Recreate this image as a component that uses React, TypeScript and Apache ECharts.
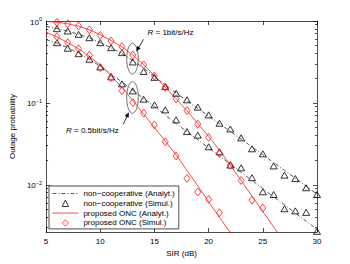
import React, { useEffect, useRef } from 'react';
import * as echarts from 'echarts';

const FONT = '"Liberation Sans", Arial, Helvetica, sans-serif';

// SIR (dB) sample positions
const sirAnalyt = [5, 6, 7, 8, 9, 10, 11, 12, 13, 14, 15, 16, 17, 18, 19, 20, 21, 22, 23, 24, 25, 26, 27, 28, 29, 30];
const sirSim = [6, 7, 8, 9, 10, 11, 12, 13, 14, 15, 16, 17, 18, 19, 20, 21, 22, 23, 24, 25, 26, 27, 28, 29, 30];

// Analytical curves (outage probability)
const nonCoopR1Analyt = [0.86, 0.81, 0.75, 0.69, 0.62, 0.545, 0.47, 0.4, 0.33, 0.265, 0.21, 0.166, 0.132, 0.106, 0.0855, 0.069, 0.0555, 0.045, 0.0362, 0.029, 0.0233, 0.0187, 0.015, 0.012, 0.0096, 0.0077];
const nonCoopR05Analyt = [0.59, 0.54, 0.47, 0.405, 0.34, 0.28, 0.225, 0.18, 0.143, 0.113, 0.09, 0.071, 0.056, 0.0445, 0.0355, 0.0282, 0.0225, 0.0179, 0.0142, 0.0113, 0.009, 0.0071, 0.0057, 0.0045, 0.0036, 0.00285];
const oncR1Analyt = [0.99, 0.965, 0.925, 0.865, 0.78, 0.68, 0.578, 0.483, 0.385, 0.293, 0.215, 0.155, 0.112, 0.08, 0.056, 0.039, 0.0265, 0.0174, 0.01125, 0.00726, 0.00471, 0.00305, 0.00197];
const oncR05Analyt = [0.73, 0.64, 0.545, 0.455, 0.37, 0.29, 0.215, 0.155, 0.107, 0.073, 0.05, 0.034, 0.0232, 0.015, 0.0097, 0.0062, 0.004, 0.0026];

// Simulated points
const nonCoopR1Sim = [0.806, 0.755, 0.688, 0.626, 0.544, 0.472, 0.411, 0.316, 0.242, 0.205, 0.158, 0.131, 0.109, 0.0887, 0.0714, 0.0565, 0.048, 0.0374, 0.0275, 0.0239, 0.017, 0.0131, 0.0119, 0.0092, 0.0076];
const nonCoopR05Sim = [0.5435, 0.465, 0.399, 0.341, 0.275, 0.2075, 0.1706, 0.14, 0.111, 0.0946, 0.0822, 0.0621, 0.0447, 0.0404, 0.0291, 0.0253, 0.0174, 0.0161, 0.0122, 0.0082, 0.0076, 0.0051, 0.0048, 0.0046, 0.0027];
const oncR1Sim = [0.96, 0.925, 0.87, 0.78, 0.665, 0.57, 0.486, 0.385, 0.291, 0.213, 0.155, 0.112, 0.0805, 0.055, 0.0378, 0.0241, 0.0172, 0.01128, 0.0065, 0.0052];
const oncR05Sim = [0.643, 0.544, 0.459, 0.382, 0.269, 0.204, 0.141, 0.1008, 0.0749, 0.0539, 0.0334, 0.0224, 0.01194, 0.00815, 0.00662, 0.00456];

const xTickValues = [5, 10, 15, 20, 25, 30];
const yMajorValues = [0.01, 0.1, 1];
const yMinorValues = [0.003, 0.004, 0.005, 0.006, 0.007, 0.008, 0.009, 0.02, 0.03, 0.04, 0.05, 0.06, 0.07, 0.08, 0.09, 0.2, 0.3, 0.4, 0.5, 0.6, 0.7, 0.8, 0.9];
const Y_MIN = 0.00265;
const Y_MAX = 1;

const NAME_NC_A = 'non\u2212cooperative (Analyt.)';
const NAME_NC_S = 'non\u2212cooperative (Simul.)';
const NAME_ONC_A = 'proposed ONC (Analyt.)';
const NAME_ONC_S = 'proposed ONC (Simul.)';
const legendNames = [NAME_NC_A, NAME_NC_S, NAME_ONC_A, NAME_ONC_S];

const RED = '#ff1a1a';
const GRAY = '#333333';

function toPairs(xs: number[], ys: number[]) {
  return ys.map((v, i) => [xs[i], Math.log10(v)]);
}

function arrow(tail: [number, number], tip: [number, number]) {
  const dx = tip[0] - tail[0];
  const dy = tip[1] - tail[1];
  const len = Math.hypot(dx, dy);
  const ux = dx / len, uy = dy / len;
  const L = 5, W = 2.2;
  const bx = tip[0] - ux * L, by = tip[1] - uy * L;
  return [
    { type: 'line', shape: { x1: tail[0], y1: tail[1], x2: bx, y2: by }, style: { stroke: '#000', lineWidth: 0.8 }, silent: true },
    { type: 'polygon', shape: { points: [tip, [bx - uy * W, by + ux * W], [bx + uy * W, by - ux * W]] }, style: { fill: '#000' }, silent: true },
  ];
}

export default function App() {
  const ref = useRef<HTMLDivElement>(null);
  useEffect(() => {
    if (!ref.current) return;
    const chart = echarts.init(ref.current, null, { renderer: 'svg' });
    const axisLineStyle = { color: '#000', width: 0.7 };
    const yMin = Math.log10(Y_MIN);
    const yMax = Math.log10(Y_MAX);
    const majors = yMajorValues.map((v) => Math.log10(v));
    const minors = yMinorValues.map((v) => Math.log10(v));
    const yBase: any = {
      type: 'value', min: yMin, max: yMax, splitLine: { show: false },
    };
    const xBase: any = {
      type: 'value', min: 5, max: 30, interval: 5, splitLine: { show: false },
      axisLine: { show: true, onZero: false, lineStyle: axisLineStyle },
      axisTick: { show: true, inside: true, length: 4, lineStyle: axisLineStyle, customValues: xTickValues },
    };
    const analytLine = (name: string, xs: number[], ys: number[], color: string, dash: any) => ({
      type: 'line', name, data: toPairs(xs, ys), symbol: 'none', showSymbol: false,
      lineStyle: { color, width: 0.8, type: dash },
      itemStyle: { color, opacity: 0 },
      clip: true, z: 2,
    });
    const simPts = (name: string, xs: number[], ys: number[], color: string, symbol: string, size: number[]) => ({
      type: 'line', name, data: toPairs(xs, ys), symbol, symbolSize: size, showSymbol: true,
      lineStyle: { width: 0, opacity: 0, color },
      itemStyle: { color: 'rgba(255,255,255,0)', borderColor: color, borderWidth: 0.8 },
      clip: true, z: 3,
    });
    const dashDot = [4, 2, 1, 2];
    chart.setOption({
      animation: false,
      textStyle: { fontFamily: FONT },
      grid: { left: 46, top: 21, right: 33, bottom: 32, containLabel: false },
      xAxis: [
        {
          ...xBase, position: 'bottom',
          axisLabel: { show: true, color: '#000', fontSize: 8, fontFamily: FONT, margin: 5, customValues: xTickValues },
          name: 'SIR (dB)', nameLocation: 'middle', nameGap: 14,
          nameTextStyle: { color: '#000', fontSize: 8, fontFamily: FONT },
        },
        { ...xBase, position: 'top', axisLabel: { show: false } },
      ],
      yAxis: [
        {
          ...yBase, position: 'left',
          axisLine: { show: true, onZero: false, lineStyle: axisLineStyle },
          axisTick: { show: true, inside: true, length: 4, lineStyle: axisLineStyle, customValues: majors },
          axisLabel: {
            show: true, customValues: majors, margin: 4, color: '#000',
            formatter: (v: number) => {
              const e = Math.round(v);
              return '{b|10}{s|' + (e < 0 ? '\u2212' + -e : String(e)) + '}';
            },
            rich: {
              b: { fontSize: 8, fontFamily: FONT, color: '#000', verticalAlign: 'bottom' },
              s: { fontSize: 5.5, fontFamily: FONT, color: '#000', verticalAlign: 'top', padding: [0, 0, 4, 0] },
            },
          },
          name: 'Outage probability', nameLocation: 'middle', nameGap: 22,
          nameTextStyle: { color: '#000', fontSize: 8, fontFamily: FONT },
        },
        {
          ...yBase, position: 'left',
          axisLine: { show: false },
          axisTick: { show: true, inside: true, length: 2, lineStyle: axisLineStyle, customValues: minors },
          axisLabel: { show: false },
        },
        {
          ...yBase, position: 'right',
          axisLine: { show: true, onZero: false, lineStyle: axisLineStyle },
          axisTick: { show: true, inside: true, length: 4, lineStyle: axisLineStyle, customValues: majors },
          axisLabel: { show: false },
        },
        {
          ...yBase, position: 'right',
          axisLine: { show: false },
          axisTick: { show: true, inside: true, length: 2, lineStyle: axisLineStyle, customValues: minors },
          axisLabel: { show: false },
        },
      ],
      legend: {
        data: legendNames,
        orient: 'vertical', left: 49, top: 186,
        padding: [3.5, 4, 2, 3],
        itemWidth: 26, itemHeight: 8, itemGap: 1.8,
        backgroundColor: '#fff', borderColor: '#000', borderWidth: 0.7,
        selectedMode: false,
        lineStyle: { width: 0.8 },
        itemStyle: { borderWidth: 0.8 },
        textStyle: { fontSize: 8, color: '#000', fontFamily: FONT },
      },
      series: [
        analytLine(NAME_NC_A, sirAnalyt, nonCoopR1Analyt, GRAY, dashDot),
        analytLine(NAME_NC_A, sirAnalyt, nonCoopR05Analyt, GRAY, dashDot),
        simPts(NAME_NC_S, sirSim, nonCoopR1Sim, '#000', 'triangle', [7, 6]),
        simPts(NAME_NC_S, sirSim, nonCoopR05Sim, '#000', 'triangle', [7, 6]),
        analytLine(NAME_ONC_A, sirAnalyt, oncR1Analyt, RED, 'solid'),
        analytLine(NAME_ONC_A, sirAnalyt, oncR05Analyt, RED, 'solid'),
        simPts(NAME_ONC_S, sirSim, oncR1Sim, RED, 'diamond', [6, 8]),
        simPts(NAME_ONC_S, sirSim, oncR05Sim, RED, 'diamond', [6, 8]),
      ],
      graphic: [
        { type: 'ellipse', shape: { cx: 132.5, cy: 58.7, rx: 5.8, ry: 15.3 }, style: { fill: 'none', stroke: '#333', lineWidth: 0.7 }, silent: true },
        { type: 'ellipse', shape: { cx: 132.5, cy: 97.5, rx: 5.8, ry: 15.8 }, style: { fill: 'none', stroke: '#333', lineWidth: 0.7 }, silent: true },
        ...arrow([143.5, 39.3], [136.3, 51.5]),
        ...arrow([123.3, 124.3], [128.8, 112.3]),
        {
          type: 'text', x: 147.5, y: 32.5, silent: true,
          style: {
            text: '{i|R} = 1bit/s/Hz', fontSize: 8, fontFamily: FONT, fill: '#000', verticalAlign: 'middle',
            rich: { i: { fontStyle: 'italic', fontSize: 8, fontFamily: FONT, color: '#000' } },
          },
        },
        {
          type: 'text', x: 66, y: 130, silent: true,
          style: {
            text: '{i|R} = 0.5bit/s/Hz', fontSize: 8, fontFamily: FONT, fill: '#000', verticalAlign: 'middle',
            rich: { i: { fontStyle: 'italic', fontSize: 8, fontFamily: FONT, color: '#000' } },
          },
        },
      ],
    });
    return () => chart.dispose();
  }, []);
  return (
    <div
      ref={ref}
      style={{ position: 'fixed', left: 0, top: 0, width: 350, height: 264, background: '#fff' }}
    />
  );
}
